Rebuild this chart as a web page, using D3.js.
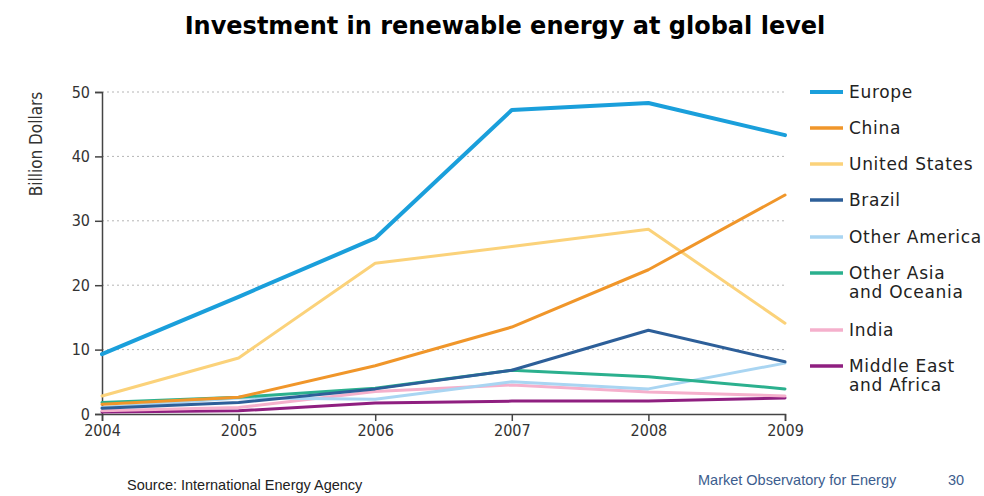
<!DOCTYPE html>
<html>
<head>
<meta charset="utf-8">
<script src="https://cdn.jsdelivr.net/npm/d3@7/dist/d3.min.js"></script>
<style>
  html, body { margin: 0; padding: 0; background: #fff; }
  svg { display: block; }
</style>
</head>
<body>
<svg id="chart" width="984" height="496"></svg>
<script>
// Investment in renewable energy by region, billion US dollars
const years = [2004, 2005, 2006, 2007, 2008, 2009];
const yTicks = [0, 10, 20, 30, 40, 50];

const europe       = [9.3, 18.2, 27.3, 47.2, 48.3, 43.3];
const china        = [1.5, 2.6, 7.5, 13.5, 22.4, 34.0];
const unitedStates = [2.8, 8.7, 23.4, 26.0, 28.7, 14.1];
const brazil       = [0.9, 1.8, 3.9, 6.8, 13.0, 8.1];
const otherAmerica = [1.0, 2.5, 2.3, 5.0, 3.9, 7.9];
const otherAsia    = [1.8, 2.6, 4.0, 6.8, 5.8, 3.9];
const india        = [0.5, 1.0, 3.5, 4.5, 3.4, 2.8];
const middleEast   = [0.3, 0.5, 1.7, 2.0, 2.0, 2.5];

const seriesNames  = ["Europe", "China", "United States", "Brazil", "Other America", "Other Asia\nand Oceania", "India", "Middle East\nand Africa"];
const seriesValues = [europe, china, unitedStates, brazil, otherAmerica, otherAsia, india, middleEast];
const seriesColors = ["#1a9fdb", "#f0962a", "#fbd27a", "#2d5f99", "#a9d5f2", "#2bb08e", "#f5b0cc", "#8f1f80"];

const svg = d3.select("#chart");
const plot = { left: 102, right: 785, top: 92, bottom: 414 };

const x = d3.scaleLinear().domain([2004, 2009]).range([plot.left, plot.right]);
const y = d3.scaleLinear().domain([0, 50]).range([plot.bottom, plot.top]);

// Title
svg.append("text")
  .attr("x", 505).attr("y", 34)
  .attr("text-anchor", "middle")
  .attr("font-family", "DejaVu Sans, Verdana, sans-serif")
  .attr("font-weight", "bold")
  .attr("font-size", 24)
  .attr("fill", "#000")
  .text("Investment in renewable energy at global level");

// Dotted horizontal gridlines
svg.append("g").selectAll("line")
  .data(yTicks.filter(t => t > 0))
  .join("line")
  .attr("x1", plot.left).attr("x2", plot.right)
  .attr("y1", d => y(d)).attr("y2", d => y(d))
  .attr("stroke", "#b5b5b5")
  .attr("stroke-width", 1)
  .attr("stroke-dasharray", "2,3");

const axisFont = "DejaVu Sans Condensed, DejaVu Sans, sans-serif";

// Y axis
const yAxis = svg.append("g")
  .attr("transform", `translate(${plot.left},0)`)
  .call(d3.axisLeft(y).tickValues(yTicks).tickSize(7).tickPadding(5).tickFormat(d3.format("d")));
yAxis.select(".domain").attr("stroke", "#444").attr("stroke-width", 1.5);
yAxis.selectAll(".tick line").attr("stroke", "#444").attr("stroke-width", 1.5);
yAxis.selectAll(".tick text")
  .attr("font-family", axisFont).attr("font-size", 16).attr("fill", "#333");

// X axis
const xAxis = svg.append("g")
  .attr("transform", `translate(0,${plot.bottom})`)
  .call(d3.axisBottom(x).tickValues(years).tickSize(7).tickPadding(4).tickFormat(d3.format("d")));
xAxis.select(".domain").attr("stroke", "#444").attr("stroke-width", 1.5);
xAxis.selectAll(".tick line").attr("stroke", "#444").attr("stroke-width", 1.5);
xAxis.selectAll(".tick text")
  .attr("font-family", axisFont).attr("font-size", 16).attr("fill", "#333");

// Y axis title
svg.append("text")
  .attr("transform", "translate(42,144) rotate(-90)")
  .attr("text-anchor", "middle")
  .attr("font-family", axisFont)
  .attr("font-size", 17)
  .attr("fill", "#333")
  .text("Billion Dollars");

// Series lines (drawn bottom-up so Europe sits on top)
const line = d3.line().x((d, i) => x(years[i])).y(d => y(d));
const order = [7, 6, 4, 5, 3, 2, 1, 0];
svg.append("g").selectAll("path")
  .data(order)
  .join("path")
  .attr("d", i => line(seriesValues[i]))
  .attr("fill", "none")
  .attr("stroke", i => seriesColors[i])
  .attr("stroke-width", i => i === 0 ? 4 : 3)
  .attr("stroke-linejoin", "round")
  .attr("stroke-linecap", "round");

// Legend
const legendY = [92, 128, 164, 200, 237, 273, 330, 366];
const legend = svg.append("g");
seriesNames.forEach((name, i) => {
  const g = legend.append("g").attr("transform", `translate(810,${legendY[i]})`);
  g.append("line")
    .attr("x1", 0).attr("x2", 33).attr("y1", 0).attr("y2", 0)
    .attr("stroke", seriesColors[i]).attr("stroke-width", i === 0 ? 4 : 3.5);
  const t = g.append("text")
    .attr("x", 39).attr("y", 6)
    .attr("font-family", "DejaVu Sans, Verdana, sans-serif")
    .attr("font-size", 17)
    .attr("letter-spacing", 0.7)
    .attr("fill", "#222");
  name.split("\n").forEach((part, k) => {
    t.append("tspan").attr("x", 39).attr("dy", k === 0 ? 0 : 19).text(part);
  });
});

// Footer
svg.append("text")
  .attr("x", 127).attr("y", 490)
  .attr("font-family", "Liberation Sans, Arial, sans-serif")
  .attr("font-size", 14.5).attr("fill", "#222")
  .text("Source: International Energy Agency");
svg.append("text")
  .attr("x", 698).attr("y", 485)
  .attr("font-family", "Liberation Sans, Arial, sans-serif")
  .attr("font-size", 14.5).attr("fill", "#3c5d8e")
  .text("Market Observatory for Energy");
svg.append("text")
  .attr("x", 948).attr("y", 485)
  .attr("font-family", "Liberation Sans, Arial, sans-serif")
  .attr("font-size", 14.5).attr("fill", "#3c5d8e")
  .text("30");
</script>
</body>
</html>
